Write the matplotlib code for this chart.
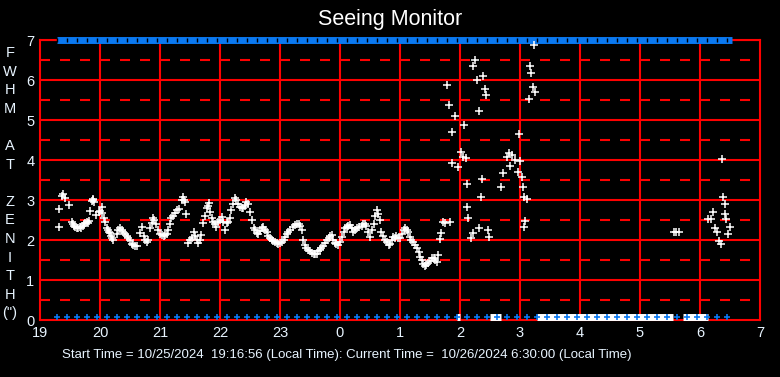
"""
plot.py
Seeing monitor chart: FWHM at zenith over one night.
"""

import numpy as np
import matplotlib.pyplot as plt

# time in hours since midnight of the start day (values past 24 are after midnight)
seeing_hours = [
    19.31, 19.32, 19.37, 19.39, 19.42, 19.49, 19.53, 19.55, 19.57, 19.59, 19.61, 19.64,
    19.66, 19.68, 19.71, 19.73, 19.75, 19.78, 19.80, 19.82, 19.83, 19.87, 19.88, 19.89,
    19.90, 19.94, 19.98, 20.00, 20.03, 20.04, 20.06, 20.08, 20.11, 20.13, 20.15, 20.17,
    20.19, 20.20, 20.22, 20.28, 20.30, 20.33, 20.36, 20.39, 20.42, 20.45, 20.47, 20.50,
    20.53, 20.55, 20.58, 20.61, 20.67, 20.70, 20.73, 20.75, 20.78, 20.80, 20.83, 20.86,
    20.89, 20.90, 20.94, 20.97, 21.00, 21.03, 21.06, 21.08, 21.11, 21.14, 21.17, 21.19,
    21.22, 21.25, 21.28, 21.31, 21.36, 21.39, 21.40, 21.42, 21.44, 21.47, 21.50, 21.53,
    21.56, 21.58, 21.61, 21.64, 21.67, 21.69, 21.72, 21.75, 21.78, 21.80, 21.81, 21.84,
    21.86, 21.89, 21.92, 21.94, 21.97, 22.00, 22.03, 22.05, 22.08, 22.11, 22.14, 22.17,
    22.19, 22.22, 22.25, 22.27, 22.30, 22.33, 22.36, 22.39, 22.42, 22.44, 22.47, 22.50,
    22.53, 22.56, 22.58, 22.61, 22.64, 22.67, 22.70, 22.72, 22.75, 22.78, 22.80, 22.83,
    22.86, 22.89, 22.92, 22.95, 22.97, 23.00, 23.03, 23.06, 23.08, 23.11, 23.14, 23.17,
    23.22, 23.25, 23.28, 23.31, 23.33, 23.36, 23.39, 23.42, 23.44, 23.47, 23.50, 23.53,
    23.56, 23.58, 23.61, 23.64, 23.67, 23.69, 23.72, 23.75, 23.78, 23.81, 23.83, 23.86,
    23.89, 23.92, 23.94, 23.97, 24.00, 24.03, 24.06, 24.08, 24.11, 24.14, 24.17, 24.20,
    24.22, 24.25, 24.28, 24.31, 24.36, 24.39, 24.42, 24.44, 24.47, 24.50, 24.53, 24.56,
    24.58, 24.61, 24.64, 24.66, 24.69, 24.72, 24.75, 24.78, 24.81, 24.83, 24.86, 24.89,
    24.92, 24.94, 24.97, 25.00, 25.03, 25.06, 25.08, 25.11, 25.14, 25.17, 25.19, 25.22,
    25.25, 25.28, 25.31, 25.33, 25.36, 25.39, 25.42, 25.44, 25.47, 25.50, 25.53, 25.56,
    25.58, 25.61, 25.64, 25.67, 25.69, 25.72, 25.75, 25.83,
    # scattered readings after 2 am
    25.79, 25.82, 25.86, 25.87, 25.92, 25.96, 26.01, 26.05, 26.06, 26.10, 26.11, 26.12,
    26.14, 26.18, 26.21, 26.22, 26.25, 26.29, 26.31, 26.32, 26.35, 26.36, 26.38, 26.41,
    26.44, 26.47, 26.49, 26.69, 26.72, 26.78, 26.81, 26.83, 26.86, 26.92, 26.96, 26.99,
    27.00, 27.03, 27.05, 27.07, 27.07, 27.08, 27.12, 27.15, 27.17, 27.19, 27.22, 27.23,
    27.25,
    # late readings
    29.57, 29.60, 29.65, 30.14, 30.19, 30.22, 30.25, 30.28, 30.31, 30.35, 30.37, 30.39,
    30.41, 30.42, 30.44, 30.47, 30.50,
]
seeing_fwhm = [
    2.33, 2.77, 3.10, 3.15, 3.05, 2.87, 2.46, 2.40, 2.35, 2.32, 2.29, 2.30,
    2.33, 2.29, 2.36, 2.40, 2.42, 2.45, 2.42, 2.47, 2.72, 2.97, 3.00, 3.02,
    2.95, 2.62, 2.70, 2.72, 2.83, 2.68, 2.54, 2.45, 2.29, 2.25, 2.20, 2.17,
    2.10, 2.05, 2.00, 2.15, 2.25, 2.29, 2.25, 2.20, 2.15, 2.10, 2.06, 2.00,
    1.90, 1.87, 1.85, 1.85, 2.17, 2.33, 2.10, 2.00, 1.96, 2.00, 2.29, 2.42,
    2.54, 2.50, 2.40, 2.25, 2.15, 2.12, 2.10, 2.12, 2.15, 2.25, 2.40, 2.54,
    2.60, 2.68, 2.75, 2.77, 3.00, 3.08, 3.00, 2.96, 2.64, 1.92, 2.00, 2.04,
    2.21, 2.10, 2.00, 1.92, 2.00, 2.12, 2.42, 2.60, 2.79, 2.85, 2.92, 2.70,
    2.54, 2.45, 2.40, 2.33, 2.45, 2.50, 2.58, 2.45, 2.25, 2.42, 2.45, 2.54,
    2.75, 2.90, 3.04, 3.00, 2.90, 2.83, 2.80, 2.79, 2.85, 2.96, 2.90, 2.71,
    2.50, 2.29, 2.25, 2.17, 2.15, 2.22, 2.30, 2.33, 2.25, 2.20, 2.10, 2.04,
    2.00, 1.97, 1.96, 1.93, 1.90, 1.92, 1.95, 2.00, 2.07, 2.15, 2.21, 2.25,
    2.33, 2.38, 2.40, 2.39, 2.35, 2.25, 2.00, 1.87, 1.80, 1.75, 1.72, 1.68,
    1.65, 1.64, 1.66, 1.72, 1.75, 1.79, 1.85, 1.92, 2.00, 2.05, 2.10, 2.12,
    2.00, 1.92, 1.90, 1.87, 1.95, 2.08, 2.20, 2.30, 2.33, 2.35, 2.37, 2.30,
    2.21, 2.25, 2.30, 2.33, 2.35, 2.40, 2.39, 2.35, 2.20, 2.08, 2.25, 2.40,
    2.60, 2.75, 2.65, 2.50, 2.21, 2.10, 2.00, 1.95, 1.87, 1.90, 2.00, 2.08,
    2.05, 2.10, 2.04, 2.05, 2.15, 2.25, 2.30, 2.25, 2.20, 2.08, 2.00, 1.96,
    1.88, 1.79, 1.70, 1.58, 1.50, 1.40, 1.35, 1.38, 1.42, 1.48, 1.54, 1.55,
    1.50, 1.46, 1.62, 2.02, 2.18, 2.44, 2.42, 2.44,
    5.87, 5.37, 3.92, 4.69, 5.10, 3.83, 4.21, 4.07, 4.87, 4.04, 3.39, 2.82,
    2.54, 2.04, 2.17, 6.35, 6.50, 6.00, 5.22, 2.29, 3.07, 3.52, 6.10, 5.77,
    5.62, 2.25, 2.08, 3.32, 3.68, 4.07, 4.18, 3.85, 4.12, 4.00, 3.71, 4.64,
    3.98, 3.58, 3.32, 3.07, 2.33, 2.47, 3.02, 5.52, 6.35, 6.18, 5.82, 6.87,
    5.71,
    2.19, 2.19, 2.19, 2.52, 2.52, 2.71, 2.29, 2.19, 1.98, 1.90, 4.02, 3.08,
    2.89, 2.64, 2.52, 2.14, 2.33,
]

# status strips along the top and bottom edge
run_start = 19 + 17 / 60
run_end = 24 + 6.5
flag_spans = [(25.95, 26.00), (26.50, 26.68), (27.28, 29.55), (29.72, 30.13)]

hour_ticks = list(range(19, 32))
hour_labels = [str(h % 24) for h in hour_ticks]
fwhm_ticks = list(range(0, 8))
ylabel_letters = ["F", "W", "H", "M", "", "A", "T", "", "Z", "E", "N", "I", "T", "H", '(")']

plt.rcParams["font.family"] = ["Liberation Sans Narrow", "Liberation Sans", "DejaVu Sans"]

RED = "#ff0000"
BLUE = "#0a78f0"
TXT = "#e8f4ff"


def main():
    fig = plt.figure(figsize=(7.8, 3.77), dpi=100, facecolor="black")
    ax = fig.add_axes([40 / 780, 57 / 377, 720 / 780, 280 / 377])
    ax.set_facecolor("black")
    ax.set_xlim(19, 31)
    ax.set_ylim(0, 7)

    # grid: solid at whole units/hours, dashed at half units
    for y in fwhm_ticks[1:]:
        ax.axhline(y, color=RED, lw=1.5, zorder=1)
    for x in hour_ticks[1:-1]:
        ax.axvline(x, color=RED, lw=1.5, zorder=1)
    for y in np.arange(0.5, 7, 1.0):
        ax.plot([19, 31], [y, y], color=RED, lw=1.5, dashes=(10 / 1.5 * 0.72, 10 / 1.5 * 0.72),
                zorder=1)
    for sp in ax.spines.values():
        sp.set_color(RED)
        sp.set_linewidth(1.5)

    # status strips
    cadence = np.arange(run_start, run_end + 0.01, 1 / 6)
    ax.hlines(7, run_start, run_end + 0.03, color=BLUE, lw=5, zorder=3, clip_on=False)
    ax.plot(cadence, [7] * len(cadence), ls="none", marker="|", color="black", ms=3,
            mew=1, zorder=4, clip_on=False)
    for a, b in flag_spans:
        ax.hlines(0.07, a, b, color="white", lw=5, zorder=3, clip_on=False)
    ax.plot(cadence, [0.07] * len(cadence), ls="none", marker="+", color=BLUE, ms=5,
            mew=1.2, zorder=4, clip_on=False)

    # seeing readings
    ax.plot(seeing_hours, seeing_fwhm, ls="none", marker="+", color="white", ms=5.5,
            mew=1.1, zorder=5)

    ax.set_xticks(hour_ticks)
    ax.set_xticklabels(hour_labels)
    ax.set_yticks(fwhm_ticks)
    ax.tick_params(colors=TXT, length=0, labelsize=10.5)
    ax.tick_params(axis="x", pad=4)
    ax.tick_params(axis="y", pad=4)
    for lab in ax.get_xticklabels() + ax.get_yticklabels():
        lab.set_color(TXT)

    fig.text(0.5, 1 - 20 / 377, "Seeing Monitor", color="white", fontsize=15.5,
             family=["Liberation Sans", "DejaVu Sans"], ha="center", va="center")
    for i, ch in enumerate(ylabel_letters):
        fig.text(10 / 780, 1 - (53 + i * 18.6) / 377, ch, color=TXT, fontsize=10.5,
                 ha="center", va="center")
    fig.text(62 / 780, 1 - 355 / 377,
             "Start Time = 10/25/2024  19:16:56 (Local Time): Current Time =  10/26/2024 6:30:00 (Local Time)",
             color=TXT, fontsize=9.5, ha="left", va="center")

    fig.savefig("out.png", dpi=100, facecolor="black")


if __name__ == "__main__":
    main()
